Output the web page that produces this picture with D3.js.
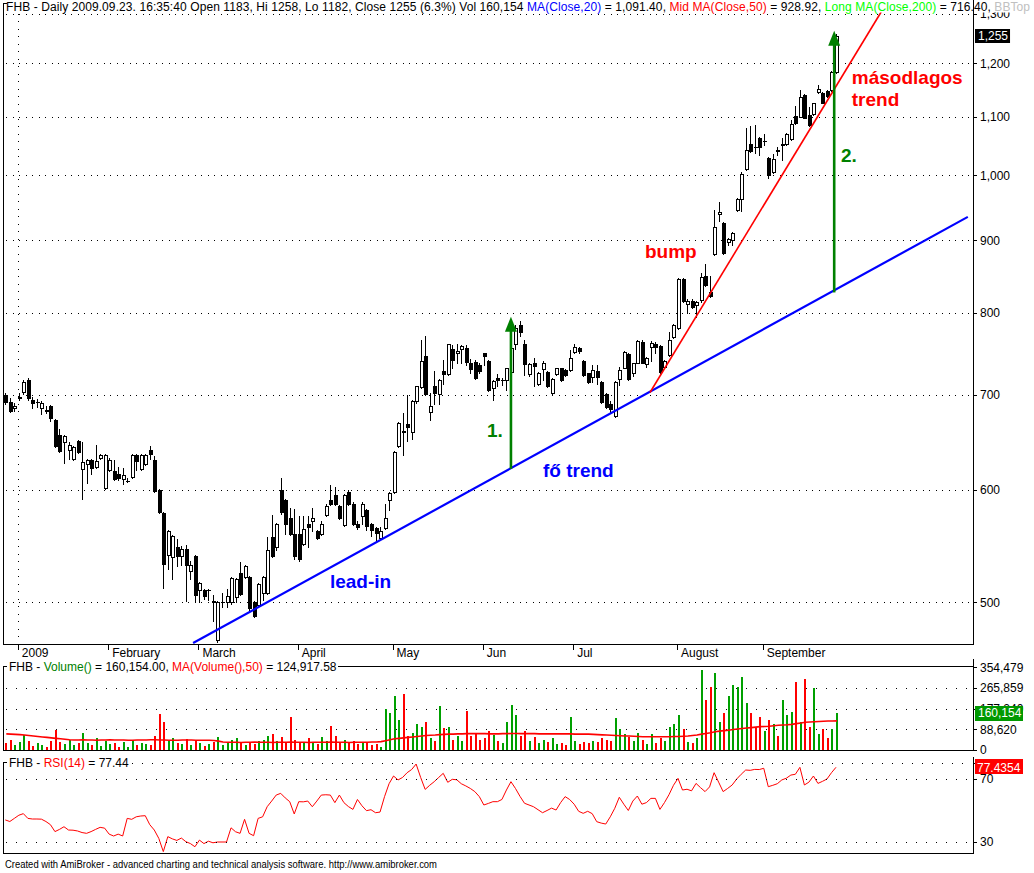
<!DOCTYPE html>
<html><head><meta charset="utf-8">
<script src="https://cdn.jsdelivr.net/npm/d3@7"></script>
<style>
body{margin:0;background:#fff;}
svg{display:block;font-family:"Liberation Sans",Arial,sans-serif;}
</style>
</head><body>
<svg id="c" width="1034" height="873"></svg>
<script>
// ---------------- DATA ----------------
const opens = [700,692,685,697,703,717,694,692,686,683,
688,672,656,649,640,631,650,621,626,630,
623,632,602,620,619,616,611,609,613,635,
621,626,640,630,600,578,540,538,547,539,
545,526,539,510,510,510,501,470,500,500,
500,504,524,521,521,500,498,508,508,556,
547,600,590,573,559,559,550,568,571,561,
559,576,590,595,585,567,598,587,568,575,
581,568,564,555,564,590,598,644,660,668,
659,693,709,746,681,710,701,728,724,754,
750,754,756,738,739,735,749,740,708,720,
717,717,727,760,785,760,724,737,713,730,
727,702,724,731,729,729,751,756,740,725,
721,728,715,701,690,677,718,732,748,725,
738,763,736,757,761,758,733,747,769,780,
845,812,816,810,817,850,828,880,940,926,
898,901,946,963,1010,1052,1048,1063,1058,1029,
1005,1042,1051,1052,1061,1101,1100,1140,1104,1105,
1145,1144,1147,1148,1183];
const highs = [702,697,691,702,717,720,698,696,693,688,
689,673,662,656,649,644,651,649,631,631,
645,636,636,632,630,623,622,612,636,636,
636,636,644,634,601,579,562,558,554,548,
549,535,540,517,511,511,506,501,508,511,
521,520,534,531,522,501,516,522,556,576,
569,612,591,583,582,575,575,575,583,562,
571,587,605,603,586,596,600,588,571,588,
582,569,565,565,587,598,639,670,680,700,
694,711,765,770,702,728,718,741,761,759,
761,759,759,742,741,738,750,741,717,724,
720,732,758,785,790,766,737,744,727,740,
728,720,732,732,730,753,760,757,741,726,
735,735,716,702,693,716,733,752,749,738,
765,765,745,764,763,759,741,775,786,846,
846,818,818,816,853,866,850,945,958,927,
904,912,964,1005,1080,1083,1085,1064,1070,1030,
1035,1048,1062,1071,1095,1120,1148,1141,1118,1125,
1158,1145,1148,1184,1258];
const lows = [690,681,682,695,701,695,686,687,679,680,
671,643,638,627,631,630,637,591,607,616,
622,631,601,619,610,610,606,608,612,620,
620,625,631,598,578,512,528,519,530,531,
501,519,501,500,503,502,485,469,496,496,
499,500,506,520,494,488,497,502,507,538,
544,577,559,558,536,535,549,547,561,554,
558,575,586,586,572,566,586,567,563,568,
562,557,551,554,563,581,597,643,635,650,
652,691,708,700,672,690,690,713,723,731,
737,737,735,725,718,725,735,705,694,710,
712,706,725,755,770,723,722,711,712,717,
709,700,723,716,722,728,749,750,722,714,
715,713,691,686,681,676,712,731,717,722,
737,737,733,740,750,726,731,746,768,779,
814,800,806,795,814,836,821,879,928,880,
893,893,944,944,1009,1039,1037,1033,1050,996,
1004,1033,1025,1051,1060,1088,1099,1097,1084,1104,
1143,1124,1136,1147,1182];
const closes = [692,682,688,698,715,697,691,692,691,682,
675,644,639,655,645,643,638,628,630,622,
629,635,635,630,611,612,615,609,635,629,
635,635,636,599,579,532,561,557,539,545,
531,531,506,516,505,510,500,500,500,505,
520,519,507,530,495,489,515,521,544,539,
568,579,568,559,539,536,563,565,573,555,
568,585,587,587,573,595,587,568,565,587,
566,562,560,561,573,597,638,669,659,665,
693,710,740,701,688,702,717,724,760,741,
752,758,739,730,720,728,746,706,716,717,
717,731,756,780,775,736,736,734,726,738,
710,719,731,717,723,744,757,752,723,715,
729,721,692,687,684,715,729,751,718,737,
764,738,744,762,757,727,740,765,785,845,
815,816,808,814,848,837,822,920,943,881,
902,911,963,1002,1042,1040,1047,1047,1058,1000,
1027,1041,1052,1070,1087,1089,1135,1098,1085,1124,
1150,1125,1137,1183,1255];
const volumes = [28000,45000,20000,35000,64000,40000,18000,30000,22000,15000,38000,
86000,35000,25000,42000,20000,28000,73000,
30000,22000,50000,18000,40000,25000,30000,15000,35000,12000,45000,20000,30000,25000,20000,
60000,154000,121000,
40000,50000,30000,25000,48000,22000,40000,30000,18000,25000,
35000,55000,20000,30000,45000,50000,28000,20000,35000,25000,40000,45000,60000,70000,40000,55000,35000,
143000,45000,35000,30000,50000,28000,25000,55000,40000,
103000,60000,35000,45000,30000,40000,25000,35000,30000,20000,25000,15000,
174000,157000,233000,130000,240000,
60000,75000,110000,100000,120000,50000,40000,190000,95000,100000,45000,60000,40000,167000,60000,70000,45000,50000,80000,65000,40000,30000,
120000,195000,150000,60000,80000,40000,55000,30000,45000,35000,50000,25000,30000,
20000,143000,40000,25000,35000,30000,40000,35000,50000,45000,40000,139000,90000,70000,55000,40000,75000,45000,25000,70000,30000,50000,40000,100000,110000,
150000,90000,35000,30000,50000,343000,214000,271000,329000,120000,160000,233000,
279000,269000,313000,200000,157000,100000,140000,80000,129000,110000,60000,214000,150000,161000,293000,120000,304000,100000,267000,70000,90000,50000,90000,160154];
const volumeMA = [69000,68000,67000,66000,64000,62000,60000,58000,56000,54000,52000,50000,48000,46000,44000,
43000,43000,44000,43000,43000,42000,43000,43000,44000,43000,43000,43000,42000,42000,43000,43000,43000,44000,44000,43000,43000,42000,42000,42000,43000,43000,43000,42000,42000,42000,42000,41000,38000,34000,
33000,33000,33000,32000,33000,33000,34000,33000,33000,33000,32000,33000,33000,33000,34000,33000,33000,33000,32000,33000,33000,33000,33000,34000,33000,33000,33000,32000,33000,33000,33000,33000,34000,34000,
36000,40000,44000,48000,50000,52000,
54000,56000,58000,60000,62000,63000,64000,
66000,67000,68000,68000,69000,69000,70000,70000,70000,70000,70000,69000,69000,69000,70000,70000,71000,71000,70000,70000,70000,70000,69000,69000,69000,69000,69000,69000,69000,69000,68000,68000,68000,68000,67000,
66000,65000,64000,63000,62000,61000,60000,60000,59000,58000,
57000,57000,57000,57000,57000,57000,57000,58000,58000,59000,60000,62000,
64000,68000,71000,74000,78000,81000,83000,85000,88000,90000,92000,94000,96000,98000,100000,101000,102000,104000,106000,107000,108000,110000,113000,116000,119000,120000,121000,122000,123000,124000,124000,124918];
const rsiValues = [44,43,45,47,48,45,44.6,44.6,44.5,43,
41,36.6,38,39.7,37.6,37.5,37,36,35.5,36.6,
38,39.3,38.8,35,33.8,35,33.8,45,44.4,46,
46.5,46.7,41,37.6,32.3,23.9,33.4,32,31,32.5,
30.2,29,27,31.2,29,30.5,29.5,30,30,30,
39,36.5,35.5,44.4,35.5,34,45,46,52.4,56,
59.8,60.9,58,55.6,47.8,55.6,55.5,56,52.4,56,
59.8,60,59.8,55,59.8,55,52.5,50.7,57,53,
49.9,50.5,48.6,49,58.8,67,71.9,69.4,71,74,
76,79.5,71,63.4,66,68.3,71,73.6,67.9,69.8,
69.5,67,65.6,64,62,58.8,53.5,54.5,55.6,55.6,
57,63,68.3,64,59,54.6,53.5,52.4,50.5,48.6,
50,51.5,50.3,55,58.8,57,54,49.5,48.2,49.5,
48,42.9,42,41.4,46,51.4,58.4,54,50,56,
59.2,54,55,57.7,57.7,50.7,55,60,66,70.4,
63,63.5,62.5,67.2,64.5,62,65,74,68,62,
64,66.2,70,73,75.7,75.5,76.1,76,76.8,65.1,
66,67,69.4,70.5,72.5,73,77.4,66.2,68,71.9,
67.2,68.5,70,74,77.44];
const monthTickBars = [3,23,43,65,86,106,126,149,168];
const monthLabels = ["2009","February","March","April","May","Jun","Jul","August","September"];
const priceTicks = [500,600,700,800,900,1000,1100,1200,1300];
const volumeTicks = [0,88620,177240,265859,354479];
const rsiTicks = [30,70,80];
const rsiLabels = [30,70];
// trend lines (bar index, price)
const blueTrend = [[41.6,468],[213.2,935]];
const redTrend = [[142.8,703],[194.0,1304]];
// arrows: bar index, from price, to price
const arrowBars = [112,183.6];
const arrowFrom = [621,827];
const arrowTo = [795,1265];

// ---------------- LAYOUT ----------------
const svg = d3.select('#c');
const xL = 3.5, xR = 973.5;
const pTop = 3.5, pBot = 644.5;
const vTop = 666.5, vBot = 750.5;
const rTop = 762.5, rBot = 853.5;

const x = d3.scaleLinear().domain([0,184]).range([5.3,836]);
const y = d3.scaleLog().domain([500,1200]).range([602.3,63.2]);
const yv = d3.scaleLinear().domain([0,354479]).range([750,667.3]);
const yr = d3.scaleLinear().domain([30,70]).range([842,779]);
const fmt = d3.format(",");
const px = v => Math.round(v) + 0.5;

const bars = opens.map((o,i)=>({i,o,h:highs[i],l:lows[i],c:closes[i],v:volumes[i],ma:volumeMA[i],r:rsiValues[i]}));

// ---------------- PRICE PANE ----------------
const gp = svg.append('g');
gp.selectAll('line.pg').data(priceTicks).join('line')
  .attr('x1',6).attr('x2',970).attr('y1',d=>px(y(d))).attr('y2',d=>px(y(d)))
  .attr('stroke','#000').attr('stroke-dasharray','1,5.5').attr('shape-rendering','crispEdges');
gp.append('line').attr('x1',px(x(monthTickBars[0])-1)).attr('x2',px(x(monthTickBars[0])-1))
  .attr('y1',6).attr('y2',pBot).attr('stroke','#000').attr('stroke-dasharray','1,6.5').attr('shape-rendering','crispEdges');

gp.selectAll('line.wick').data(bars).join('line')
  .attr('x1',d=>Math.round(x(d.i))+0.5).attr('x2',d=>Math.round(x(d.i))+0.5)
  .attr('y1',d=>Math.round(y(d.h))).attr('y2',d=>Math.round(y(d.l))+1)
  .attr('stroke','#000').attr('stroke-width',1).attr('shape-rendering','crispEdges');
gp.selectAll('rect.body').data(bars).join('rect')
  .attr('x',d=>Math.round(x(d.i))-0.5)
  .attr('width',3)
  .attr('y',d=>Math.round(y(Math.max(d.o,d.c)))+0.5)
  .attr('height',d=>Math.max(0.01,Math.round(y(Math.min(d.o,d.c)))-Math.round(y(Math.max(d.o,d.c)))))
  .attr('fill',d=>d.c>=d.o?'#fff':'#000')
  .attr('stroke','#000').attr('stroke-width',1).attr('shape-rendering','crispEdges');

gp.append('path').attr('d',`M${xL},${pBot} V${pTop} H7 M${xL},${pBot} H${xR} M${xR},0 V${pBot}`)
  .attr('fill','none').attr('stroke','#000').attr('shape-rendering','crispEdges');
gp.selectAll('line.pt').data(priceTicks).join('line')
  .attr('x1',xR).attr('x2',xR+3).attr('y1',d=>px(y(d))).attr('y2',d=>px(y(d)))
  .attr('stroke','#000').attr('shape-rendering','crispEdges');
gp.selectAll('text.pl').data(priceTicks).join('text')
  .attr('x',980).attr('y',d=>y(d)).attr('dy','0.36em').attr('font-size',12).attr('fill','#000')
  .text(d=>fmt(d));

const gm = svg.append('g');
gm.selectAll('line').data(monthTickBars).join('line')
  .attr('x1',d=>px(x(d)-1)).attr('x2',d=>px(x(d)-1)).attr('y1',pBot).attr('y2',pBot+5)
  .attr('stroke','#000').attr('shape-rendering','crispEdges');
gm.selectAll('text').data(monthTickBars).join('text')
  .attr('x',d=>x(d)+3).attr('y',657).attr('font-size',12).attr('fill','#000')
  .text((d,i)=>monthLabels[i]);

const line = d3.line().x(d=>x(d[0])).y(d=>y(d[1]));
svg.append('path').attr('d',line(blueTrend)).attr('stroke','#0000ff').attr('stroke-width',2.2).attr('fill','none');
svg.append('path').attr('d',line(redTrend)).attr('stroke','#ff0000').attr('stroke-width',1.6).attr('fill','none');

arrowBars.forEach((b,k)=>{
  const ax = x(b), y0 = y(arrowFrom[k]), y1 = y(arrowTo[k]);
  svg.append('line').attr('x1',ax).attr('x2',ax).attr('y1',y0).attr('y2',y1+12)
    .attr('stroke','#008000').attr('stroke-width',2.6);
  svg.append('path').attr('d',`M${ax},${y1} L${ax-6},${y1+15} L${ax+6},${y1+15} Z`).attr('fill','#008000');
});

const notes = [
  {t:"lead-in", b:71.9, p:511.5, c:"#0000ff"},
  {t:"fő trend", b:119.1, p:612.5, c:"#0000ff"},
  {t:"1.", b:106.7, p:653.6, c:"#008000"},
  {t:"2.", b:185.1, p:1022, c:"#008000"},
  {t:"bump", b:141.7, p:875, c:"#ff0000"},
  {t:"másodlagos", b:187.5, p:1160, c:"#ff0000"},
  {t:"trend", b:187.5, p:1119, c:"#ff0000"}
];
svg.selectAll('text.note').data(notes).join('text')
  .attr('x',d=>x(d.b)).attr('y',d=>y(d.p)).attr('font-size',19).attr('font-weight','bold')
  .attr('fill',d=>d.c).text(d=>d.t);

// header
svg.append('rect').attr('x',0).attr('y',0).attr('width',1034).attr('height',12.5).attr('fill','#fff');
svg.append('path').attr('d',`M${xL},14 V${pTop} H7 M${xR},0 V14`).attr('fill','none').attr('stroke','#000').attr('shape-rendering','crispEdges');
const hdr = svg.append('text').attr('x',6).attr('y',11).attr('font-size',12)
  .attr('textLength',1024).attr('lengthAdjust','spacing');
[["FHB - Daily 2009.09.23. 16:35:40 Open 1183, Hi 1258, Lo 1182, Close 1255 (6.3%) Vol 160,154 ","#000"],
 ["MA(Close,20)","#0000ff"],[" = 1,091.40, ","#000"],["Mid MA(Close,50)","#ff0000"],[" = 928.92, ","#000"],
 ["Long MA(Close,200)","#00ff00"],[" = 716.40, ","#000"],["BBTop","#c0c0c0"]]
 .forEach(s=>hdr.append('tspan').attr('fill',s[1]).text(s[0]));

// last price label box
{
  const lastC = closes[closes.length-1];
  const t = svg.append('text').attr('x',978).attr('y',y(lastC)).attr('dy','0.36em').attr('font-size',12).attr('fill','#fff').text(fmt(lastC));
  const w = t.node().getComputedTextLength();
  svg.append('rect').attr('x',975).attr('y',Math.round(y(lastC))-7).attr('width',w+5).attr('height',14).attr('fill','#000');
  t.raise();
}

// ---------------- VOLUME PANE ----------------
const gv = svg.append('g');
gv.selectAll('line.vg').data(volumeTicks.slice(1,4)).join('line')
  .attr('x1',6).attr('x2',970).attr('y1',d=>px(yv(d))).attr('y2',d=>px(yv(d)))
  .attr('stroke','#000').attr('stroke-dasharray','1,9').attr('shape-rendering','crispEdges');
gv.selectAll('rect').data(bars).join('rect')
  .attr('x',d=>Math.round(x(d.i))).attr('width',2)
  .attr('y',d=>yv(d.v)).attr('height',d=>vBot-yv(d.v))
  .attr('fill',d=>d.c>=d.o?'#00a000':'#ff0000').attr('shape-rendering','crispEdges');
gv.append('path').attr('d',d3.line().x(d=>x(d.i)+1).y(d=>yv(d.ma))(bars))
  .attr('fill','none').attr('stroke','#ff0000').attr('stroke-width',1.6);
const vh = gv.append('text').attr('x',9).attr('y',671).attr('font-size',12);
[["FHB - ","#000"],["Volume()","#008000"],[" = 160,154.00, ","#000"],["MA(Volume(),50)","#ff0000"],[" = 124,917.58","#000"]]
 .forEach(s=>vh.append('tspan').attr('fill',s[1]).text(s[0]));
const vhw = vh.node().getComputedTextLength();
gv.append('path').attr('d',`M${9+vhw+1},${vTop} H${xR} M${xL},${vBot} H${xR} M${xR},${vTop-8} V${vBot} M${xL},${vBot} V${vTop} H7`)
  .attr('fill','none').attr('stroke','#000').attr('shape-rendering','crispEdges');
gv.selectAll('line.vt').data(volumeTicks).join('line')
  .attr('x1',xR).attr('x2',xR+3).attr('y1',d=>px(yv(d))).attr('y2',d=>px(yv(d))).attr('stroke','#000').attr('shape-rendering','crispEdges');
gv.selectAll('text.vl').data(volumeTicks).join('text')
  .attr('x',980).attr('y',d=>yv(d)).attr('dy','0.36em').attr('font-size',12).text(d=>fmt(d));
{
  const lv = volumes[volumes.length-1];
  gv.append('rect').attr('x',975).attr('y',Math.round(yv(lv))-7).attr('width',48).attr('height',15).attr('fill','#009900');
  gv.append('text').attr('x',978).attr('y',yv(lv)).attr('dy','0.36em').attr('font-size',12).attr('fill','#fff').text(fmt(lv));
}

// ---------------- RSI PANE ----------------
const gr = svg.append('g');
gr.append('path').attr('d',d3.line().x(d=>x(d.i)).y(d=>yr(d.r))(bars))
  .attr('fill','none').attr('stroke','#ff0000').attr('stroke-width',1);
const rh = gr.append('text').attr('x',9).attr('y',766.5).attr('font-size',12);
[["FHB - ","#000"],["RSI(14)","#ff0000"],[" = 77.44","#000"]].forEach(s=>rh.append('tspan').attr('fill',s[1]).text(s[0]));
const rhw = rh.node().getComputedTextLength();
gr.selectAll('line.rg').data(rsiTicks).join('line')
  .attr('x1',(d)=>d===80?9+rhw+3:6).attr('x2',970).attr('y1',d=>px(yr(d))).attr('y2',d=>px(yr(d)))
  .attr('stroke','#000').attr('stroke-dasharray','1,9').attr('shape-rendering','crispEdges');
gr.append('path').attr('d',`M${xL},${rBot} V${rTop} H7 M${xL},${rBot} H${xR} M${xR},${rTop-6} V${rBot}`)
  .attr('fill','none').attr('stroke','#000').attr('shape-rendering','crispEdges');
gr.selectAll('line.rt').data(rsiTicks).join('line')
  .attr('x1',xR).attr('x2',xR+3).attr('y1',d=>px(yr(d))).attr('y2',d=>px(yr(d))).attr('stroke','#000').attr('shape-rendering','crispEdges');
gr.selectAll('text.rl').data(rsiLabels).join('text')
  .attr('x',980).attr('y',d=>yr(d)).attr('dy','0.36em').attr('font-size',12).text(d=>d);
{
  const lr = 77.4354;
  gr.append('rect').attr('x',975).attr('y',Math.round(yr(lr))-8).attr('width',48).attr('height',15).attr('fill','#ff0000');
  gr.append('text').attr('x',977).attr('y',yr(lr)).attr('dy','0.36em').attr('font-size',12).attr('fill','#fff').text("77.4354");
}

// footer
svg.append('text').attr('x',5).attr('y',868).attr('font-size',10).attr('textLength',432).attr('lengthAdjust','spacingAndGlyphs')
  .text("Created with AmiBroker - advanced charting and technical analysis software. http://www.amibroker.com");
</script>
</body></html>
